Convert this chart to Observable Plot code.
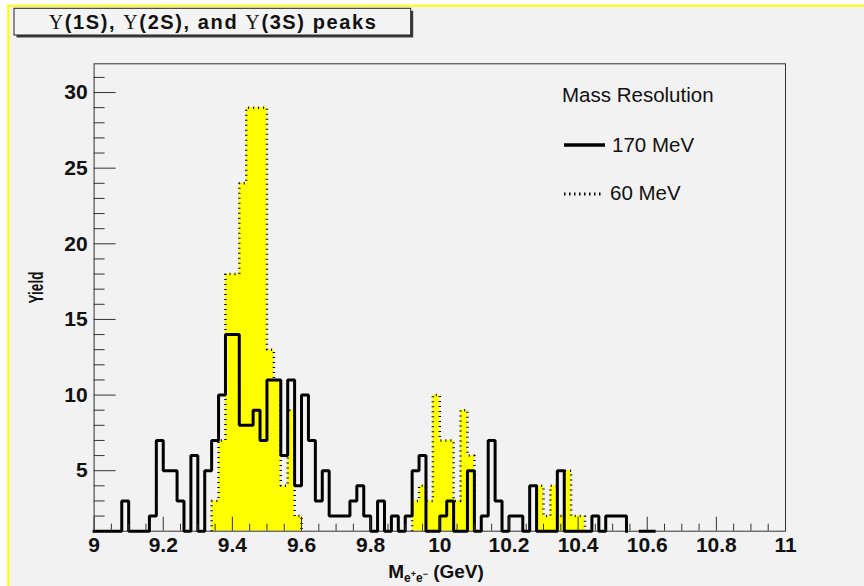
<!DOCTYPE html>
<html><head><meta charset="utf-8">
<script src="https://cdn.jsdelivr.net/npm/d3@7"></script>
<script src="https://cdn.jsdelivr.net/npm/@observablehq/plot@0.6"></script>
<style>
html,body{margin:0;padding:0;background:#fff;}
#chart svg{display:block;}
</style></head><body><div id="chart"></div>
<script>
// ---- data: 100 bins of 0.02 GeV from 9.00 to 11.00 ----
const binStart = 9.0;
const binWidth = 0.02;
// 170 MeV mass resolution (solid black histogram)
const yield170 = [
  1, 1, 1, 1, 3, 1, 1, 1, 2, 7,
  5, 5, 3, 1, 6, 1, 5, 7,10,14,
 14, 8, 8, 9, 7,11,11, 6,11, 4,
 10, 7, 3, 5, 2, 2, 2, 3, 4, 2,
  1, 3, 1, 2, 1, 2, 5, 6, 1, 1,
  2, 3, 1, 1, 5, 1, 2, 7, 3, 1,
  2, 2, 1, 4, 1, 1, 1, 5, 1, 1,
  1, 1, 2, 1, 2, 2, 2, 0, 0, 1,
  1, 0, 0, 0, 0, 0, 0, 0, 0, 0,
  0, 0, 0, 0, 0, 0, 0, 0, 0, 0
];
// 60 MeV mass resolution (yellow, dotted outline)
const yield60 = [
  0, 0, 0, 0, 0, 0, 0, 0, 0, 0,
  0, 0, 0, 0, 0, 0, 0, 3, 7,18,
 18,24,29,29,29,13,11, 4, 9, 2,
  0, 0, 0, 0, 0, 0, 0, 0, 0, 0,
  0, 0, 0, 0, 0, 0, 3, 4, 3,10,
  7, 7, 3, 9, 6, 0, 0, 0, 0, 0,
  0, 0, 0, 0, 4, 2, 4, 2, 5, 2,
  2, 0, 0, 0, 0, 0, 0, 0, 0, 0,
  0, 0, 0, 0, 0, 0, 0, 0, 0, 0,
  0, 0, 0, 0, 0, 0, 0, 0, 0, 0
];
const xDomain = [9, 11];
const yDomain = [1, 31.9];
const xMajorTicks = [9, 9.2, 9.4, 9.6, 9.8, 10, 10.2, 10.4, 10.6, 10.8, 11];
const xTickLabels = ["9","9.2","9.4","9.6","9.8","10","10.2","10.4","10.6","10.8","11"];
const yMajorTicks = [5, 10, 15, 20, 25, 30];
const yTickLabels = ["5","10","15","20","25","30"];
const xMinorTicks = d3.range(1, 40).map(i => +(9 + i * 0.05).toFixed(2)).filter(v => !xMajorTicks.includes(v));
const yMinorTicks = d3.range(2, 32).filter(v => v % 5 !== 0);

// Build step outlines (runs of non-empty bins) from histogram values
function stepRuns(vals) {
  const yMin = yDomain[0];
  const pts = [];
  let run = -1, prev = 0;
  vals.forEach((v, i) => {
    const x0 = binStart + i * binWidth, x1 = binStart + (i + 1) * binWidth;
    if (v > 0) {
      if (prev === 0) { run++; pts.push({x: x0, y: yMin, y0: yMin, run}); }
      const y = Math.max(v, yMin);
      pts.push({x: x0, y, y0: yMin, run}, {x: x1, y, y0: yMin, run});
    } else if (prev > 0) {
      pts.push({x: x0, y: yMin, y0: yMin, run});
    }
    prev = v;
  });
  if (prev > 0) pts.push({x: binStart + vals.length * binWidth, y: yMin, y0: yMin, run});
  return pts;
}
const steps170 = stepRuns(yield170);
const steps60 = stepRuns(yield60);

const axisColor = "#333";
const chart = Plot.plot({
  width: 864,
  height: 586,
  marginLeft: 93.6,
  marginRight: 79,
  marginTop: 63.3,
  marginBottom: 55.3,
  style: {background: "#ffffff", fontFamily: "'Liberation Sans', Arial, Helvetica, sans-serif", color: "#000"},
  x: {domain: xDomain},
  y: {domain: yDomain},
  marks: [
    Plot.areaY(steps60, {x: "x", y1: "y0", y2: "y", z: "run", fill: "#ffff00", curve: "linear"}),
    Plot.line(steps60, {x: "x", y: "y", z: "run", stroke: "#000", strokeWidth: 2.5, strokeDasharray: "1,4", strokeLinejoin: "miter", strokeLinecap: "butt", curve: "linear"}),
    Plot.frame({stroke: axisColor, strokeWidth: 1}),
    Plot.line(steps170, {x: "x", y: "y", z: "run", stroke: "#000", strokeWidth: 3, strokeLinejoin: "miter", strokeLinecap: "square", curve: "linear"}),
    Plot.axisX(xMajorTicks, {tickSize: -14, fill: "none", stroke: axisColor, label: null}),
    Plot.axisX(xMinorTicks, {tickSize: -7, fill: "none", stroke: axisColor, label: null}),
    Plot.axisX(xMajorTicks, {tickSize: 0, tickPadding: 6, fontSize: 21, fontWeight: "bold", fill: "#111", label: null,
      tickFormat: d => xTickLabels[xMajorTicks.indexOf(d)]}),
    Plot.axisY(yMajorTicks, {tickSize: -22, fill: "none", stroke: axisColor, label: null}),
    Plot.axisY(yMinorTicks, {tickSize: -11, fill: "none", stroke: axisColor, label: null}),
    Plot.axisY(yMajorTicks, {tickSize: 0, tickPadding: 6.5, fontSize: 21, fontWeight: "bold", fill: "#111", label: null,
      tickFormat: d => yTickLabels[yMajorTicks.indexOf(d)]})
  ]
});
document.getElementById("chart").appendChild(chart);

// ---- canvas decoration, title, legend, axis titles ----
const svg = d3.select(chart);
const bg = svg.insert("g", ":first-child");
bg.append("rect").attr("x", 0).attr("y", 0).attr("width", 864).attr("height", 586).attr("fill", "#ffffff");
bg.append("rect").attr("x", 8.3).attr("y", 5.8).attr("width", 864).attr("height", 586).attr("fill", "#f2f2f2");
bg.append("line").attr("x1", 7.3).attr("x2", 864).attr("y1", 5.8).attr("y2", 5.8).attr("stroke", "#ffff00").attr("stroke-width", 2);
bg.append("line").attr("x1", 8.3).attr("x2", 8.3).attr("y1", 4.8).attr("y2", 586).attr("stroke", "#ffff00").attr("stroke-width", 2);

const fg = svg.append("g").attr("font-family", "'Liberation Sans', Arial, Helvetica, sans-serif").attr("fill", "#111").attr("text-anchor", "start");
// title box with shadow
fg.append("rect").attr("x", 16.5).attr("y", 10.8).attr("width", 396.7).attr("height", 26.7).attr("fill", "#3a3a3a");
fg.append("rect").attr("x", 14).attr("y", 8.3).attr("width", 396.7).attr("height", 26.7).attr("fill", "#f4f4f4").attr("stroke", "#222").attr("stroke-width", 1);
const title = fg.append("text").attr("x", 212.3).attr("y", 29.3).attr("text-anchor", "middle")
  .attr("font-size", 20).attr("font-weight", "bold").attr("textLength", 327).attr("lengthAdjust", "spacing");
const ups = () => title.append("tspan").attr("font-family", "'Liberation Serif', 'Times New Roman', serif").attr("font-weight", "normal").text("\u03A5");
ups(); title.append("tspan").text("(1S), ");
ups(); title.append("tspan").text("(2S), and ");
ups(); title.append("tspan").text("(3S) peaks");

// legend
fg.append("text").attr("x", 562).attr("y", 101.7).attr("text-anchor", "start").attr("font-size", 20.5).text("Mass Resolution");
fg.append("line").attr("x1", 564).attr("x2", 605).attr("y1", 145).attr("y2", 145).attr("stroke", "#000").attr("stroke-width", 3.5);
fg.append("text").attr("x", 612).attr("y", 151.7).attr("text-anchor", "start").attr("font-size", 20.5).text("170 MeV");
fg.append("line").attr("x1", 564).attr("x2", 601).attr("y1", 194).attr("y2", 194).attr("stroke", "#000").attr("stroke-width", 3).attr("stroke-dasharray", "1.5,3.5");
fg.append("text").attr("x", 610).attr("y", 200).attr("text-anchor", "start").attr("font-size", 20.5).text("60 MeV");

// y axis title
fg.append("text").attr("transform", "translate(43.3,287.5) rotate(-90)").attr("text-anchor", "middle")
  .attr("font-size", 20).attr("font-weight", "bold").attr("textLength", 32).attr("lengthAdjust", "spacingAndGlyphs").text("Yield");

// x axis title  M_{e+e-} (GeV)
const xt = fg.append("text").attr("x", 436).attr("y", 578).attr("text-anchor", "middle").attr("font-size", 19).attr("font-weight", "bold");
xt.append("tspan").text("M");
xt.append("tspan").attr("font-size", 12).attr("dy", 4).text("e");
xt.append("tspan").attr("font-size", 9).attr("dy", -5).text("+");
xt.append("tspan").attr("font-size", 12).attr("dy", 5).text("e");
xt.append("tspan").attr("font-size", 9).attr("dy", -5).text("\u2212");
xt.append("tspan").attr("dy", 1).text(" (GeV)");
</script>
</body></html>
